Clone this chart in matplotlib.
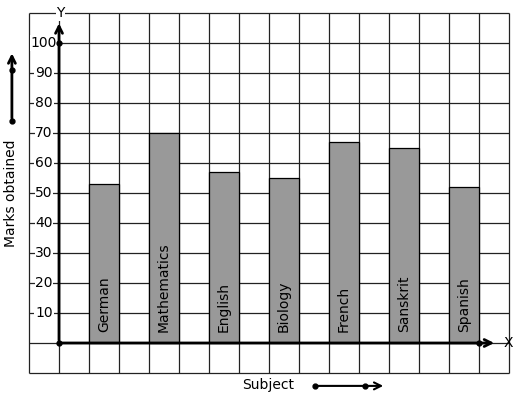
import numpy as np
import matplotlib
matplotlib.use("Agg")
import matplotlib.pyplot as plt

# data
subjects = ["German", "Mathematics", "English", "Biology", "French", "Sanskrit", "Spanish"]
marks = [53, 70, 57, 55, 67, 65, 52]
y_ticks = [10, 20, 30, 40, 50, 60, 70, 80, 90, 100]

W, H = 517, 399
fig = plt.figure(figsize=(W / 100, H / 100), dpi=100)
ax = fig.add_axes([0, 0, 1, 1])
# 1 x-unit = 30 px, 10 y-units = 30 px; origin at pixel (59, 343)
ax.set_xlim(-59 / 30, (W - 59) / 30)
ax.set_ylim(-(H - 343) / 3, 343 / 3)
ax.axis("off")

# grid
ax.vlines(np.arange(-1, 16), -10, 110, color="#222222", lw=0.9, zorder=1)
ax.hlines(np.arange(-10, 111, 10), -1, 15, color="#222222", lw=0.9, zorder=1)

# bars
xs = np.arange(len(subjects)) * 2 + 1.5
ax.bar(xs, marks, width=1, color="#999999", edgecolor="black", lw=0.9, zorder=2)
for x, s in zip(xs, subjects):
    ax.text(x, 3.5, s, rotation=90, ha="center", va="bottom", fontsize=10, zorder=3)

# y tick labels
for t in y_ticks:
    ax.text(-0.5, t, str(t), ha="center", va="center", fontsize=10, zorder=3,
            bbox=dict(facecolor="white", edgecolor="none", pad=0.5))

# axes with arrows
ax.annotate("", xy=(0, 107.5), xytext=(0, 0),
            arrowprops=dict(arrowstyle="->,head_length=0.5,head_width=0.25", lw=2, color="black"), zorder=4)
ax.annotate("", xy=(14.6, 0), xytext=(0, 0),
            arrowprops=dict(arrowstyle="->,head_length=0.5,head_width=0.25", lw=2, color="black"), zorder=4)
ax.plot([0, 0, 14], [0, 100, 0], "o", color="black", ms=3.5, zorder=5)
ax.text(0.05, 110, "Y", ha="center", va="center", fontsize=10, zorder=5,
        bbox=dict(facecolor="white", edgecolor="none", pad=0.5))
ax.text(14.97, 0, "X", ha="center", va="center", fontsize=10, zorder=5)

# outside labels and arrows
ax.text(-1.6, 50, "Marks obtained", rotation=90, ha="center", va="center", fontsize=10)
ax.annotate("", xy=(-1.57, 97.5), xytext=(-1.57, 74),
            arrowprops=dict(arrowstyle="->,head_length=0.5,head_width=0.25", lw=2, color="black"))
ax.plot([-1.57, -1.57], [74, 91], "o", color="black", ms=3.5)

ax.text(6.98, -14, "Subject", ha="center", va="center", fontsize=10)
ax.annotate("", xy=(10.9, -14.3), xytext=(8.53, -14.3),
            arrowprops=dict(arrowstyle="->,head_length=0.5,head_width=0.25", lw=1.5, color="black"))
ax.plot([8.53, 10.2], [-14.3, -14.3], "o", color="black", ms=3.5)

fig.savefig("out.png", dpi=100, facecolor="white")
